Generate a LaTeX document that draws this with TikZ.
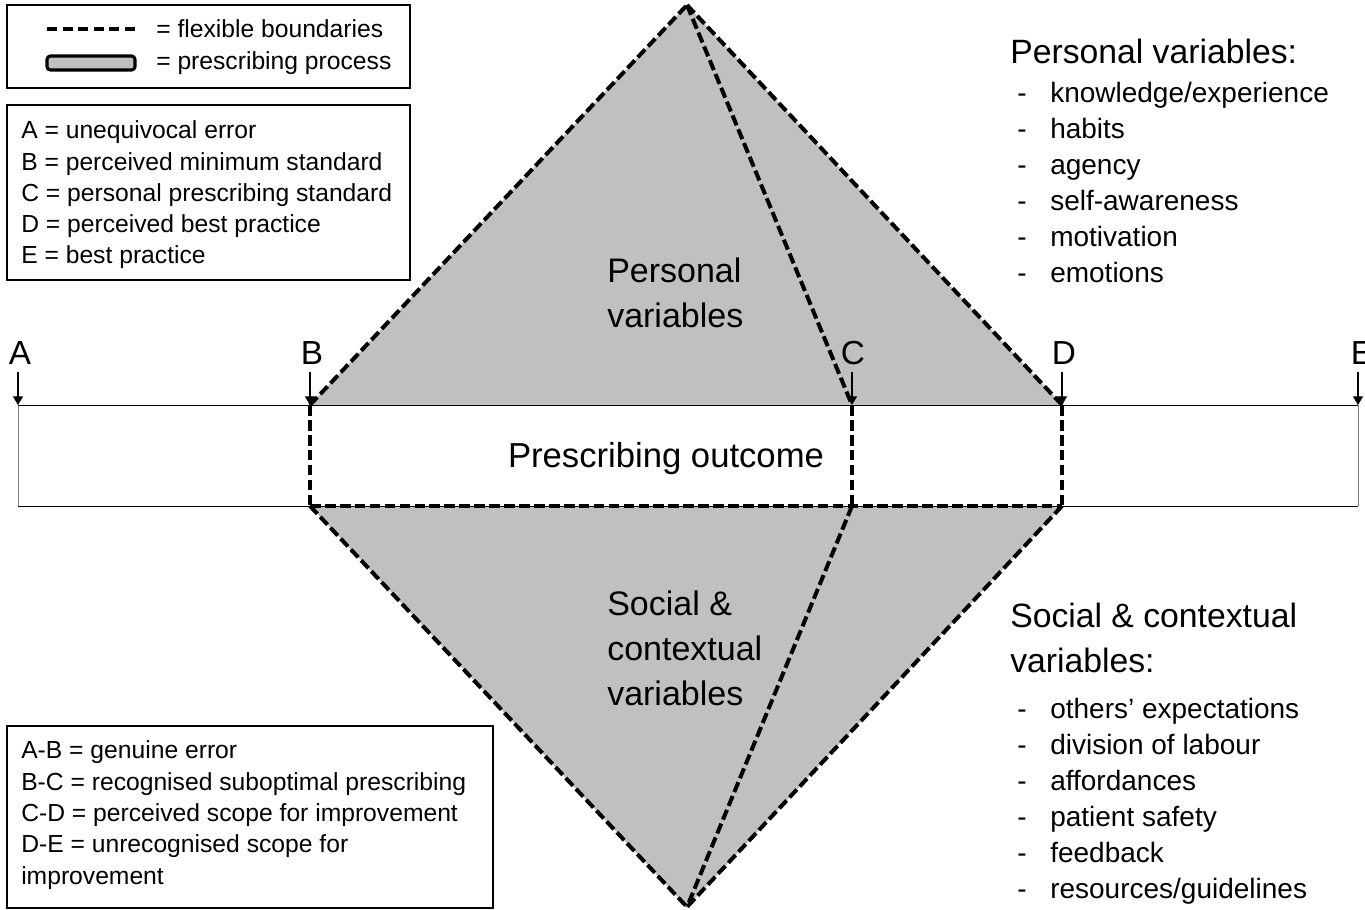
\documentclass[tikz,border=0pt]{standalone}
\usepackage{fontspec}
\setmainfont{Liberation Sans}
\usetikzlibrary{arrows.meta}
\definecolor{procgray}{RGB}{192,192,192}
\begin{document}
\begin{tikzpicture}[x=0.75pt,y=-0.75pt,
  flex/.style={line width=3pt,dash pattern=on 8pt off 3.2pt},
  frame/.style={draw,line width=1.1pt},
  lbl/.style={inner sep=0pt,anchor=base west},
  legendfont/.style={font=\fontsize{18.5}{22}\selectfont},
  bigfont/.style={font=\fontsize{25.5}{30}\selectfont},
  headfont/.style={font=\fontsize{25.3}{30}\selectfont},
  listfont/.style={font=\fontsize{21}{25}\selectfont},
  letterfont/.style={font=\fontsize{25}{30}\selectfont},
  marker/.style={line width=0.8pt,-{Triangle[width=7.5pt,length=6.5pt]}},
  ]
\useasboundingbox (0,0) rectangle (1365,910);

% positions on the outcome scale: t = top edge, b = bottom edge, s = marker start
\foreach \n/\x in {A/18,B/310,C/852,D/1062,E/1358}{
  \coordinate (t\n) at (\x,405);
  \coordinate (b\n) at (\x,506);
  \coordinate (s\n) at (\x,372);
}
\coordinate (apexT) at (687,5);
\coordinate (apexB) at (687,907);

% prescribing process areas
\fill[procgray] (tB) -- (apexT) -- (tD) -- cycle;
\fill[procgray] (bB) -- (apexB) -- (bD) -- cycle;

% outcome band
\fill[white] (tA) rectangle (bE);
\draw[gray,line width=0.75pt] (tA) -- (bA) (tE) -- (bE);
\draw[line width=0.75pt] (tA) -- (tE) (bA) -- (bE);

% flexible boundaries
\draw[flex] (tB) -- (apexT);
\draw[flex] (apexT) -- (tD);
\draw[flex] (apexT) -- (tC);
\draw[flex] (tB) -- (bB);
\draw[flex] (tC) -- (bC);
\draw[flex] (tD) -- (bD);
\draw[flex] (bB) -- (bD);
\draw[flex] (bB) -- (apexB);
\draw[flex] (bD) -- (apexB);
\draw[flex] (bC) -- (apexB);

% scale letters and markers
\node[letterfont,inner sep=0pt,anchor=base] (labA) at (20,364) {A};
\node[letterfont,inner sep=0pt,anchor=base] (labB) at (312,364) {B};
\node[letterfont,inner sep=0pt,anchor=base] (labC) at (853,364) {C};
\node[letterfont,inner sep=0pt,anchor=base] (labD) at (1064,364) {D};
\node[letterfont,inner sep=0pt,anchor=base] (labE) at (1362,364) {E};
\foreach \n in {A,B,C,D,E}{\draw[marker] (s\n) -- (t\n);}

% area labels
\node[lbl,font=\fontsize{26}{30}\selectfont,anchor=base] (outcome) at (666,467) {Prescribing outcome};
\node[lbl,bigfont] (pv1) at (607,282) {Personal};
\node[lbl,bigfont] (pv2) at (607,327) {variables};
\node[lbl,bigfont] (sc1) at (607,615) {Social \&};
\node[lbl,bigfont] (sc2) at (607,660) {contextual};
\node[lbl,bigfont] (sc3) at (607,705) {variables};

% legend: line styles
\draw[frame] (7,5) rectangle (410,88);
\draw[line width=3pt,dash pattern=on 7.5pt off 4.2pt] (47,29) -- (135,29);
\draw[line width=2.3pt,fill=procgray,rounded corners=2.5pt] (47,56) rectangle (135,70);
\node[lbl,legendfont] (lf) at (156,37) {= flexible boundaries};
\node[lbl,legendfont] (lp) at (156,69.5) {= prescribing process};

% legend: scale points
\draw[frame] (7,105) rectangle (410,280);
\node[lbl,legendfont] (kA) at (21,138) {A = unequivocal error};
\node[lbl,legendfont] (kB) at (21,170) {B = perceived minimum standard};
\node[lbl,legendfont] (kC) at (21,201) {C = personal prescribing standard};
\node[lbl,legendfont] (kD) at (21,232) {D = perceived best practice};
\node[lbl,legendfont] (kE) at (21,263.5) {E = best practice};

% legend: ranges
\draw[frame] (7,726) rectangle (493,908);
\node[lbl,legendfont] (rAB) at (21,758) {A-B = genuine error};
\node[lbl,legendfont] (rBC) at (21,790) {B-C = recognised suboptimal prescribing};
\node[lbl,legendfont] (rCD) at (21,821) {C-D = perceived scope for improvement};
\node[lbl,legendfont] (rDE) at (21,852) {D-E = unrecognised scope for};
\node[lbl,legendfont] (rDE2) at (21,884) {improvement};

% personal variables list
\node[lbl,headfont] (ph) at (1010,63) {Personal variables:};
\foreach \t [count=\i] in {knowledge/experience,habits,agency,self-awareness,motivation,emotions}{
  \node[listfont,inner sep=0pt,anchor=base] (pd\i) at (1022,66+36*\i) {-};
  \node[lbl,listfont] (pi\i) at (1050,66+36*\i) {\t};
}

% social and contextual variables list
\node[lbl,headfont] (sh1) at (1010,627) {Social \& contextual};
\node[lbl,headfont] (sh2) at (1010,672) {variables:};
\foreach \t [count=\i] in {others’ expectations,division of labour,affordances,patient safety,feedback,resources/guidelines}{
  \node[listfont,inner sep=0pt,anchor=base] (sd\i) at (1022,682+36*\i) {-};
  \node[lbl,listfont] (si\i) at (1050,682+36*\i) {\t};
}
\end{tikzpicture}
\end{document}
